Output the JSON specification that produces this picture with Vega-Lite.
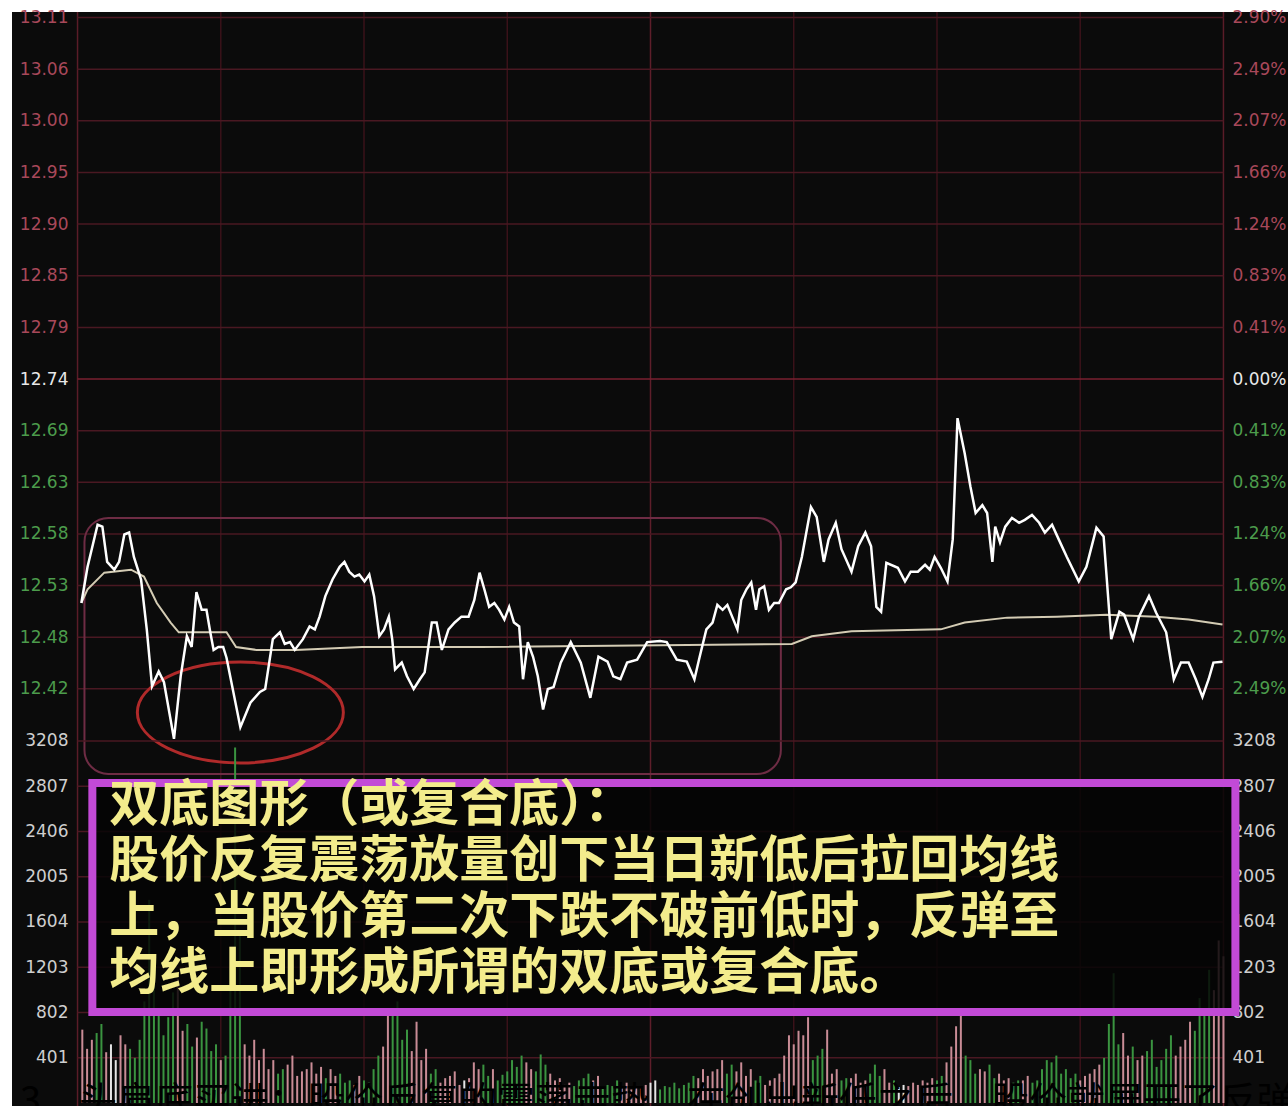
{
  "$schema": "https://vega.github.io/schema/vega-lite/v6.json",
  "width": 1276,
  "height": 1094,
  "autosize": {"type": "none"},
  "padding": {"left": 12, "top": 12, "right": 0, "bottom": 0},
  "background": "#ffffff",
  "config": {
    "view": {"fill": "#0b0b0b", "stroke": null},
    "axis": {"domain": false, "ticks": false, "grid": false, "title": null, "labelOverlap": false, "labelBound": false, "labelFlush": false, "labelFont": "DejaVu Sans", "labelFontSize": 17}
  },
  "datasets": {
    "sessions": [{"t": 0}, {"t": 30}, {"t": 60}, {"t": 90}, {"t": 120}, {"t": 150}, {"t": 180}, {"t": 210}, {"t": 240}],
    "priceLevels": [{"level": 12.4232}, {"level": 12.476}, {"level": 12.5288}, {"level": 12.5816}, {"level": 12.6344}, {"level": 12.6872}, {"level": 12.74}, {"level": 12.7928}, {"level": 12.8456}, {"level": 12.8984}, {"level": 12.9512}, {"level": 13.004}, {"level": 13.0568}, {"level": 13.1096}],
    "volLevels": [{"level": 401}, {"level": 802}, {"level": 1203}, {"level": 1604}, {"level": 2005}, {"level": 2406}, {"level": 2807}, {"level": 3208}],
    "region": [{"t1": 1.45, "t2": 147.3, "hi": 12.598, "lo": 12.336}],
    "lows": [{"t": 34.1, "p": 12.399}],
    "price": [
      {"t": 0.8, "p": 12.511}, {"t": 2.1, "p": 12.548}, {"t": 4.2, "p": 12.591}, {"t": 5.2, "p": 12.589}, {"t": 6.2, "p": 12.553},
      {"t": 7.7, "p": 12.545}, {"t": 8.7, "p": 12.553}, {"t": 9.8, "p": 12.581}, {"t": 10.8, "p": 12.583}, {"t": 11.8, "p": 12.558},
      {"t": 13.3, "p": 12.535}, {"t": 14.5, "p": 12.484}, {"t": 15.6, "p": 12.426}, {"t": 17.0, "p": 12.441}, {"t": 18.1, "p": 12.43},
      {"t": 20.2, "p": 12.372}, {"t": 21.6, "p": 12.436}, {"t": 22.9, "p": 12.477}, {"t": 23.9, "p": 12.466}, {"t": 24.9, "p": 12.522},
      {"t": 26.0, "p": 12.504}, {"t": 27.0, "p": 12.504}, {"t": 27.8, "p": 12.481}, {"t": 28.5, "p": 12.463}, {"t": 29.5, "p": 12.466},
      {"t": 30.5, "p": 12.466}, {"t": 31.2, "p": 12.455}, {"t": 34.1, "p": 12.384}, {"t": 36.2, "p": 12.409}, {"t": 38.2, "p": 12.42},
      {"t": 39.3, "p": 12.423}, {"t": 40.9, "p": 12.474}, {"t": 42.4, "p": 12.481}, {"t": 43.4, "p": 12.469}, {"t": 44.5, "p": 12.471},
      {"t": 45.5, "p": 12.463}, {"t": 47.2, "p": 12.474}, {"t": 48.6, "p": 12.487}, {"t": 49.7, "p": 12.484}, {"t": 50.7, "p": 12.497},
      {"t": 51.9, "p": 12.518}, {"t": 53.4, "p": 12.535}, {"t": 54.9, "p": 12.548}, {"t": 55.9, "p": 12.553}, {"t": 56.9, "p": 12.543},
      {"t": 58.0, "p": 12.538}, {"t": 59.0, "p": 12.54}, {"t": 60.1, "p": 12.533}, {"t": 61.1, "p": 12.54}, {"t": 62.1, "p": 12.518},
      {"t": 63.2, "p": 12.477}, {"t": 64.2, "p": 12.484}, {"t": 65.2, "p": 12.497}, {"t": 65.9, "p": 12.474}, {"t": 66.5, "p": 12.443},
      {"t": 67.9, "p": 12.45}, {"t": 69.0, "p": 12.436}, {"t": 70.4, "p": 12.423}, {"t": 71.7, "p": 12.433}, {"t": 72.7, "p": 12.44},
      {"t": 74.2, "p": 12.491}, {"t": 75.2, "p": 12.491}, {"t": 76.3, "p": 12.463}, {"t": 77.7, "p": 12.484}, {"t": 79.0, "p": 12.491},
      {"t": 80.4, "p": 12.497}, {"t": 81.9, "p": 12.497}, {"t": 83.1, "p": 12.514}, {"t": 84.2, "p": 12.542}, {"t": 85.2, "p": 12.525},
      {"t": 86.2, "p": 12.507}, {"t": 87.3, "p": 12.511}, {"t": 88.3, "p": 12.504}, {"t": 89.4, "p": 12.494}, {"t": 90.4, "p": 12.507},
      {"t": 91.4, "p": 12.491}, {"t": 92.5, "p": 12.487}, {"t": 93.3, "p": 12.433}, {"t": 94.3, "p": 12.471}, {"t": 95.4, "p": 12.456},
      {"t": 96.4, "p": 12.436}, {"t": 97.5, "p": 12.402}, {"t": 98.5, "p": 12.423}, {"t": 99.7, "p": 12.425}, {"t": 101.2, "p": 12.45},
      {"t": 103.3, "p": 12.471}, {"t": 105.4, "p": 12.45}, {"t": 107.4, "p": 12.414}, {"t": 109.1, "p": 12.456}, {"t": 111.0, "p": 12.451},
      {"t": 112.2, "p": 12.436}, {"t": 113.7, "p": 12.433}, {"t": 115.1, "p": 12.45}, {"t": 117.2, "p": 12.453}, {"t": 119.3, "p": 12.471},
      {"t": 122.0, "p": 12.472}, {"t": 123.4, "p": 12.471}, {"t": 125.5, "p": 12.453}, {"t": 127.6, "p": 12.451}, {"t": 129.2, "p": 12.433},
      {"t": 130.3, "p": 12.456}, {"t": 131.7, "p": 12.484}, {"t": 133.0, "p": 12.491}, {"t": 134.0, "p": 12.509}, {"t": 135.1, "p": 12.504},
      {"t": 136.1, "p": 12.509}, {"t": 137.1, "p": 12.497}, {"t": 138.2, "p": 12.484}, {"t": 139.0, "p": 12.514}, {"t": 140.1, "p": 12.525},
      {"t": 141.1, "p": 12.532}, {"t": 142.1, "p": 12.504}, {"t": 142.8, "p": 12.525}, {"t": 143.8, "p": 12.528}, {"t": 144.8, "p": 12.504},
      {"t": 145.9, "p": 12.511}, {"t": 146.9, "p": 12.511}, {"t": 148.4, "p": 12.525}, {"t": 149.4, "p": 12.527}, {"t": 150.4, "p": 12.532},
      {"t": 151.7, "p": 12.558}, {"t": 153.6, "p": 12.609}, {"t": 154.8, "p": 12.599}, {"t": 156.3, "p": 12.553}, {"t": 157.3, "p": 12.576},
      {"t": 158.8, "p": 12.593}, {"t": 160.0, "p": 12.566}, {"t": 162.1, "p": 12.543}, {"t": 163.5, "p": 12.569}, {"t": 165.0, "p": 12.583},
      {"t": 166.2, "p": 12.569}, {"t": 167.3, "p": 12.507}, {"t": 168.3, "p": 12.502}, {"t": 169.4, "p": 12.552}, {"t": 171.8, "p": 12.547},
      {"t": 173.3, "p": 12.533}, {"t": 174.5, "p": 12.543}, {"t": 176.0, "p": 12.543}, {"t": 177.5, "p": 12.55}, {"t": 178.5, "p": 12.545},
      {"t": 179.5, "p": 12.558}, {"t": 180.8, "p": 12.547}, {"t": 182.2, "p": 12.533}, {"t": 183.3, "p": 12.576}, {"t": 184.3, "p": 12.7},
      {"t": 185.8, "p": 12.664}, {"t": 187.0, "p": 12.63}, {"t": 188.1, "p": 12.603}, {"t": 189.5, "p": 12.611}, {"t": 190.5, "p": 12.603},
      {"t": 191.6, "p": 12.553}, {"t": 192.2, "p": 12.589}, {"t": 193.2, "p": 12.573}, {"t": 194.3, "p": 12.589}, {"t": 195.7, "p": 12.598},
      {"t": 197.2, "p": 12.593}, {"t": 198.4, "p": 12.596}, {"t": 199.9, "p": 12.601}, {"t": 201.4, "p": 12.593}, {"t": 202.6, "p": 12.583},
      {"t": 204.1, "p": 12.591}, {"t": 205.5, "p": 12.576}, {"t": 207.2, "p": 12.558}, {"t": 209.7, "p": 12.533}, {"t": 211.3, "p": 12.548},
      {"t": 213.4, "p": 12.588}, {"t": 214.9, "p": 12.579}, {"t": 216.5, "p": 12.474}, {"t": 218.2, "p": 12.502}, {"t": 219.2, "p": 12.499},
      {"t": 221.1, "p": 12.474}, {"t": 222.3, "p": 12.497}, {"t": 224.4, "p": 12.518}, {"t": 225.9, "p": 12.501}, {"t": 228.0, "p": 12.481},
      {"t": 229.6, "p": 12.433}, {"t": 231.1, "p": 12.45}, {"t": 232.7, "p": 12.45}, {"t": 234.2, "p": 12.433}, {"t": 235.6, "p": 12.415},
      {"t": 236.9, "p": 12.433}, {"t": 237.9, "p": 12.45}, {"t": 239.8, "p": 12.451}
    ],
    "avg": [
      {"t": 0.8, "p": 12.511}, {"t": 2.1, "p": 12.525}, {"t": 5.6, "p": 12.542}, {"t": 11.2, "p": 12.545}, {"t": 13.9, "p": 12.538},
      {"t": 16.6, "p": 12.511}, {"t": 19.5, "p": 12.491}, {"t": 21.2, "p": 12.481}, {"t": 24.9, "p": 12.481}, {"t": 31.2, "p": 12.481},
      {"t": 33.2, "p": 12.466}, {"t": 37.4, "p": 12.463}, {"t": 45.7, "p": 12.463}, {"t": 59.6, "p": 12.466}, {"t": 84.6, "p": 12.466},
      {"t": 149.6, "p": 12.469}, {"t": 153.8, "p": 12.477}, {"t": 162.1, "p": 12.482}, {"t": 180.8, "p": 12.484}, {"t": 185.8, "p": 12.491},
      {"t": 194.7, "p": 12.496}, {"t": 205.1, "p": 12.497}, {"t": 215.5, "p": 12.499}, {"t": 225.9, "p": 12.497}, {"t": 232.7, "p": 12.494},
      {"t": 239.8, "p": 12.489}
    ],
    "volume": [
      {"t": 1, "v": 650, "dir": "up"}, {"t": 3, "v": 560, "dir": "up"}, {"t": 5, "v": 700, "dir": "down"}, {"t": 7, "v": 520, "dir": "flat"},
      {"t": 9, "v": 600, "dir": "up"}, {"t": 11, "v": 480, "dir": "down"}, {"t": 13, "v": 560, "dir": "down"}, {"t": 15, "v": 1800, "dir": "down"},
      {"t": 17, "v": 820, "dir": "down"}, {"t": 19, "v": 760, "dir": "down"}, {"t": 21, "v": 1100, "dir": "up"}, {"t": 23, "v": 700, "dir": "down"},
      {"t": 25, "v": 580, "dir": "up"}, {"t": 27, "v": 660, "dir": "down"}, {"t": 29, "v": 520, "dir": "down"}, {"t": 31, "v": 420, "dir": "down"},
      {"t": 33, "v": 3150, "dir": "down"}, {"t": 35, "v": 520, "dir": "up"}, {"t": 37, "v": 560, "dir": "up"}, {"t": 39, "v": 480, "dir": "up"},
      {"t": 41, "v": 380, "dir": "up"}, {"t": 43, "v": 300, "dir": "down"}, {"t": 45, "v": 420, "dir": "up"}, {"t": 47, "v": 280, "dir": "up"},
      {"t": 49, "v": 360, "dir": "up"}, {"t": 51, "v": 320, "dir": "up"}, {"t": 53, "v": 300, "dir": "up"}, {"t": 55, "v": 260, "dir": "down"},
      {"t": 57, "v": 200, "dir": "down"}, {"t": 59, "v": 240, "dir": "up"}, {"t": 61, "v": 180, "dir": "down"}, {"t": 63, "v": 420, "dir": "down"},
      {"t": 65, "v": 780, "dir": "up"}, {"t": 67, "v": 900, "dir": "down"}, {"t": 69, "v": 650, "dir": "down"}, {"t": 71, "v": 720, "dir": "up"},
      {"t": 73, "v": 480, "dir": "up"}, {"t": 75, "v": 300, "dir": "down"}, {"t": 77, "v": 220, "dir": "up"}, {"t": 79, "v": 280, "dir": "up"},
      {"t": 81, "v": 200, "dir": "flat"}, {"t": 83, "v": 360, "dir": "up"}, {"t": 85, "v": 340, "dir": "down"}, {"t": 87, "v": 300, "dir": "up"},
      {"t": 89, "v": 250, "dir": "down"}, {"t": 91, "v": 380, "dir": "down"}, {"t": 93, "v": 420, "dir": "down"}, {"t": 95, "v": 300, "dir": "up"},
      {"t": 97, "v": 430, "dir": "down"}, {"t": 99, "v": 260, "dir": "up"}, {"t": 101, "v": 220, "dir": "up"}, {"t": 103, "v": 180, "dir": "up"},
      {"t": 105, "v": 200, "dir": "down"}, {"t": 107, "v": 260, "dir": "down"}, {"t": 109, "v": 240, "dir": "up"}, {"t": 111, "v": 160, "dir": "down"},
      {"t": 113, "v": 200, "dir": "down"}, {"t": 115, "v": 180, "dir": "up"}, {"t": 117, "v": 140, "dir": "up"}, {"t": 119, "v": 160, "dir": "up"},
      {"t": 121, "v": 200, "dir": "flat"}, {"t": 123, "v": 150, "dir": "down"}, {"t": 125, "v": 180, "dir": "down"}, {"t": 127, "v": 160, "dir": "down"},
      {"t": 129, "v": 240, "dir": "down"}, {"t": 131, "v": 300, "dir": "up"}, {"t": 133, "v": 280, "dir": "up"}, {"t": 135, "v": 380, "dir": "up"},
      {"t": 137, "v": 340, "dir": "down"}, {"t": 139, "v": 360, "dir": "up"}, {"t": 141, "v": 300, "dir": "up"}, {"t": 143, "v": 240, "dir": "down"},
      {"t": 145, "v": 200, "dir": "up"}, {"t": 147, "v": 260, "dir": "up"}, {"t": 149, "v": 600, "dir": "up"}, {"t": 151, "v": 640, "dir": "up"},
      {"t": 153, "v": 760, "dir": "up"}, {"t": 155, "v": 420, "dir": "down"}, {"t": 157, "v": 650, "dir": "up"}, {"t": 159, "v": 300, "dir": "up"},
      {"t": 161, "v": 220, "dir": "down"}, {"t": 163, "v": 260, "dir": "up"}, {"t": 165, "v": 200, "dir": "up"}, {"t": 167, "v": 340, "dir": "down"},
      {"t": 169, "v": 300, "dir": "up"}, {"t": 171, "v": 200, "dir": "down"}, {"t": 173, "v": 160, "dir": "flat"}, {"t": 175, "v": 180, "dir": "up"},
      {"t": 177, "v": 200, "dir": "up"}, {"t": 179, "v": 220, "dir": "up"}, {"t": 181, "v": 240, "dir": "down"}, {"t": 183, "v": 500, "dir": "up"},
      {"t": 185, "v": 800, "dir": "up"}, {"t": 187, "v": 380, "dir": "down"}, {"t": 189, "v": 300, "dir": "up"}, {"t": 191, "v": 340, "dir": "down"},
      {"t": 193, "v": 260, "dir": "up"}, {"t": 195, "v": 220, "dir": "up"}, {"t": 197, "v": 200, "dir": "down"}, {"t": 199, "v": 240, "dir": "up"},
      {"t": 201, "v": 200, "dir": "down"}, {"t": 203, "v": 380, "dir": "down"}, {"t": 205, "v": 420, "dir": "down"}, {"t": 207, "v": 300, "dir": "down"},
      {"t": 209, "v": 260, "dir": "down"}, {"t": 211, "v": 240, "dir": "up"}, {"t": 213, "v": 300, "dir": "up"}, {"t": 215, "v": 400, "dir": "down"},
      {"t": 217, "v": 1150, "dir": "down"}, {"t": 219, "v": 620, "dir": "up"}, {"t": 221, "v": 500, "dir": "down"}, {"t": 223, "v": 420, "dir": "up"},
      {"t": 225, "v": 560, "dir": "down"}, {"t": 227, "v": 380, "dir": "down"}, {"t": 229, "v": 600, "dir": "down"}, {"t": 231, "v": 500, "dir": "up"},
      {"t": 233, "v": 720, "dir": "up"}, {"t": 235, "v": 930, "dir": "down"}, {"t": 237, "v": 1180, "dir": "down"}, {"t": 239, "v": 1440, "dir": "up"},
      {"t": 2, "v": 480, "dir": "up"}, {"t": 4, "v": 620, "dir": "down"}, {"t": 6, "v": 450, "dir": "up"}, {"t": 8, "v": 380, "dir": "flat"},
      {"t": 10, "v": 520, "dir": "up"}, {"t": 12, "v": 400, "dir": "down"}, {"t": 14, "v": 900, "dir": "down"}, {"t": 16, "v": 1100, "dir": "down"},
      {"t": 18, "v": 600, "dir": "down"}, {"t": 20, "v": 980, "dir": "down"}, {"t": 22, "v": 640, "dir": "up"}, {"t": 24, "v": 500, "dir": "down"},
      {"t": 26, "v": 720, "dir": "down"}, {"t": 28, "v": 460, "dir": "down"}, {"t": 30, "v": 380, "dir": "up"}, {"t": 32, "v": 1200, "dir": "down"},
      {"t": 34, "v": 1500, "dir": "down"}, {"t": 36, "v": 420, "dir": "up"}, {"t": 38, "v": 380, "dir": "up"}, {"t": 40, "v": 300, "dir": "up"},
      {"t": 42, "v": 260, "dir": "down"}, {"t": 44, "v": 340, "dir": "up"}, {"t": 46, "v": 240, "dir": "up"}, {"t": 48, "v": 300, "dir": "up"},
      {"t": 50, "v": 260, "dir": "up"}, {"t": 52, "v": 220, "dir": "down"}, {"t": 54, "v": 240, "dir": "up"}, {"t": 56, "v": 180, "dir": "down"},
      {"t": 58, "v": 160, "dir": "up"}, {"t": 60, "v": 200, "dir": "down"}, {"t": 62, "v": 300, "dir": "down"}, {"t": 64, "v": 500, "dir": "up"},
      {"t": 66, "v": 820, "dir": "down"}, {"t": 68, "v": 560, "dir": "down"}, {"t": 70, "v": 460, "dir": "up"}, {"t": 72, "v": 380, "dir": "up"},
      {"t": 74, "v": 260, "dir": "down"}, {"t": 76, "v": 180, "dir": "up"}, {"t": 78, "v": 240, "dir": "up"}, {"t": 80, "v": 160, "dir": "up"},
      {"t": 82, "v": 220, "dir": "up"}, {"t": 84, "v": 300, "dir": "up"}, {"t": 86, "v": 240, "dir": "down"}, {"t": 88, "v": 200, "dir": "down"},
      {"t": 90, "v": 280, "dir": "down"}, {"t": 92, "v": 320, "dir": "down"}, {"t": 94, "v": 360, "dir": "up"}, {"t": 96, "v": 280, "dir": "down"},
      {"t": 98, "v": 340, "dir": "down"}, {"t": 100, "v": 200, "dir": "up"}, {"t": 102, "v": 160, "dir": "up"}, {"t": 104, "v": 150, "dir": "down"},
      {"t": 106, "v": 220, "dir": "down"}, {"t": 108, "v": 200, "dir": "up"}, {"t": 110, "v": 140, "dir": "down"}, {"t": 112, "v": 150, "dir": "down"},
      {"t": 114, "v": 130, "dir": "up"}, {"t": 116, "v": 120, "dir": "up"}, {"t": 118, "v": 140, "dir": "up"}, {"t": 120, "v": 180, "dir": "flat"},
      {"t": 122, "v": 120, "dir": "down"}, {"t": 124, "v": 140, "dir": "down"}, {"t": 126, "v": 130, "dir": "down"}, {"t": 128, "v": 180, "dir": "down"},
      {"t": 130, "v": 220, "dir": "up"}, {"t": 132, "v": 240, "dir": "up"}, {"t": 134, "v": 300, "dir": "up"}, {"t": 136, "v": 260, "dir": "down"},
      {"t": 138, "v": 280, "dir": "up"}, {"t": 140, "v": 240, "dir": "up"}, {"t": 142, "v": 200, "dir": "down"}, {"t": 144, "v": 160, "dir": "up"},
      {"t": 146, "v": 220, "dir": "up"}, {"t": 148, "v": 420, "dir": "up"}, {"t": 150, "v": 520, "dir": "up"}, {"t": 152, "v": 600, "dir": "up"},
      {"t": 154, "v": 380, "dir": "down"}, {"t": 156, "v": 480, "dir": "down"}, {"t": 158, "v": 260, "dir": "up"}, {"t": 160, "v": 200, "dir": "down"},
      {"t": 162, "v": 220, "dir": "up"}, {"t": 164, "v": 180, "dir": "up"}, {"t": 166, "v": 260, "dir": "down"}, {"t": 168, "v": 240, "dir": "down"},
      {"t": 170, "v": 180, "dir": "up"}, {"t": 172, "v": 140, "dir": "flat"}, {"t": 174, "v": 150, "dir": "up"}, {"t": 176, "v": 160, "dir": "up"},
      {"t": 178, "v": 180, "dir": "up"}, {"t": 180, "v": 200, "dir": "down"}, {"t": 182, "v": 360, "dir": "up"}, {"t": 184, "v": 680, "dir": "up"},
      {"t": 186, "v": 420, "dir": "down"}, {"t": 188, "v": 260, "dir": "down"}, {"t": 190, "v": 280, "dir": "up"}, {"t": 192, "v": 220, "dir": "down"},
      {"t": 194, "v": 200, "dir": "up"}, {"t": 196, "v": 180, "dir": "down"}, {"t": 198, "v": 200, "dir": "up"}, {"t": 200, "v": 180, "dir": "down"},
      {"t": 202, "v": 300, "dir": "down"}, {"t": 204, "v": 360, "dir": "down"}, {"t": 206, "v": 260, "dir": "down"}, {"t": 208, "v": 220, "dir": "down"},
      {"t": 210, "v": 200, "dir": "up"}, {"t": 212, "v": 260, "dir": "up"}, {"t": 214, "v": 340, "dir": "up"}, {"t": 216, "v": 700, "dir": "down"},
      {"t": 218, "v": 520, "dir": "down"}, {"t": 220, "v": 420, "dir": "up"}, {"t": 222, "v": 380, "dir": "up"}, {"t": 224, "v": 460, "dir": "down"},
      {"t": 226, "v": 320, "dir": "down"}, {"t": 228, "v": 480, "dir": "down"}, {"t": 230, "v": 420, "dir": "up"}, {"t": 232, "v": 560, "dir": "up"},
      {"t": 234, "v": 640, "dir": "down"}, {"t": 236, "v": 800, "dir": "down"}, {"t": 238, "v": 1000, "dir": "up"}, {"t": 240, "v": 1300, "dir": "up"}
    ],
    "note": [{"t1": 3.1, "t2": 242.5, "hi": 2836, "lo": 806}],
    "noteLines": [
      {"t": 6.65, "v": 2632, "text": "双底图形（或复合底）："},
      {"t": 6.65, "v": 2136, "text": "股价反复震荡放量创下当日新低后拉回均线"},
      {"t": 6.65, "v": 1639, "text": "上，当股价第二次下跌不破前低时，反弹至"},
      {"t": 6.65, "v": 1143, "text": "均线上即形成所谓的双底或复合底。"}
    ],
    "caption": [{"t": -12.05, "v": -97.5, "text": "3、头肩底买进：股价反复的震荡走势，在创出新低之后，股价就展开了反弹"}]
  },
  "resolve": {"scale": {"y": "independent"}, "axis": {"y": "independent"}},
  "layer": [
    {
      "resolve": {"axis": {"y": "independent"}},
      "layer": [
        {
          "data": {"name": "sessions"},
          "mark": {"type": "rule", "strokeWidth": 1.5},
          "encoding": {
            "x": {"field": "t", "type": "quantitative", "axis": null, "scale": {"domain": [-12.68, 252.47], "nice": false, "zero": false}},
            "color": {"condition": [{"test": "datum.t == 120", "value": "#5e1e2a"}, {"test": "datum.t == 0 || datum.t == 240", "value": "#5a1c28"}], "value": "#3a1219"}
          }
        },
        {
          "data": {"name": "priceLevels"},
          "mark": {"type": "rule", "strokeWidth": 1.5},
          "encoding": {
            "x": {"datum": 0, "type": "quantitative", "axis": null, "scale": {"domain": [-12.68, 252.47], "nice": false, "zero": false}},
            "x2": {"datum": 240},
            "y": {
              "field": "level", "type": "quantitative",
              "scale": {"domain": [11.9966, 13.1153], "nice": false, "zero": false},
              "axis": {
                "orient": "left", "offset": -61, "labelPadding": 5,
                "values": [12.4232, 12.476, 12.5288, 12.5816, 12.6344, 12.6872, 12.74, 12.7928, 12.8456, 12.8984, 12.9512, 13.004, 13.0568, 13.1096],
                "format": ".2f",
                "labelColor": {"condition": [{"test": "datum.value > 12.745", "value": "#a8485a"}, {"test": "datum.value < 12.735", "value": "#4c9c4c"}], "value": "#e8e8e8"}
              }
            },
            "color": {"condition": {"test": "abs(datum.level - 12.74) < 0.001", "value": "#7a2030"}, "value": "#4a1822"}
          }
        },
        {
          "data": {"name": "region"},
          "mark": {"type": "rect", "filled": false, "stroke": "#6e2c44", "strokeWidth": 2, "cornerRadius": 24},
          "encoding": {
            "x": {"field": "t1", "type": "quantitative", "axis": null, "scale": {"domain": [-12.68, 252.47], "nice": false, "zero": false}},
            "x2": {"field": "t2"},
            "y": {"field": "hi", "type": "quantitative", "axis": null, "scale": {"domain": [11.9966, 13.1153], "nice": false, "zero": false}},
            "y2": {"field": "lo"}
          }
        },
        {
          "data": {"name": "lows"},
          "mark": {
            "type": "point", "filled": false, "stroke": "#b02a2a", "strokeWidth": 3, "opacity": 1, "size": 42436,
            "shape": "M -1 0 C -1 -0.2706 -0.5523 -0.49 0 -0.49 C 0.5523 -0.49 1 -0.2706 1 0 C 1 0.2706 0.5523 0.49 0 0.49 C -0.5523 0.49 -1 0.2706 -1 0 Z"
          },
          "encoding": {
            "x": {"field": "t", "type": "quantitative", "axis": null, "scale": {"domain": [-12.68, 252.47], "nice": false, "zero": false}},
            "y": {"field": "p", "type": "quantitative", "axis": null, "scale": {"domain": [11.9966, 13.1153], "nice": false, "zero": false}}
          }
        },
        {
          "data": {"name": "avg"},
          "mark": {"type": "line", "color": "#d4ccb4", "strokeWidth": 2},
          "encoding": {
            "x": {"field": "t", "type": "quantitative", "axis": null, "scale": {"domain": [-12.68, 252.47], "nice": false, "zero": false}},
            "y": {"field": "p", "type": "quantitative", "axis": null, "scale": {"domain": [11.9966, 13.1153], "nice": false, "zero": false}}
          }
        },
        {
          "data": {"name": "price"},
          "mark": {"type": "line", "color": "#ffffff", "strokeWidth": 2.5},
          "encoding": {
            "x": {"field": "t", "type": "quantitative", "axis": null, "scale": {"domain": [-12.68, 252.47], "nice": false, "zero": false}},
            "y": {
              "field": "p", "type": "quantitative",
              "scale": {"domain": [11.9966, 13.1153], "nice": false, "zero": false},
              "axis": {
                "orient": "right", "offset": -60, "labelPadding": 4,
                "values": [12.4232, 12.476, 12.5288, 12.5816, 12.6344, 12.6872, 12.74, 12.7928, 12.8456, 12.8984, 12.9512, 13.004, 13.0568, 13.1096],
                "labelExpr": "format(abs(datum.value - 12.74) / 12.74 * 100, '.2f') + '%'",
                "labelColor": {"condition": [{"test": "datum.value > 12.745", "value": "#a8485a"}, {"test": "datum.value < 12.735", "value": "#4c9c4c"}], "value": "#e8e8e8"}
              }
            }
          }
        }
      ]
    },
    {
      "resolve": {"axis": {"y": "independent"}},
      "layer": [
        {
          "data": {"name": "volLevels"},
          "mark": {"type": "rule", "strokeWidth": 1.5},
          "encoding": {
            "x": {"datum": 0, "type": "quantitative", "axis": null, "scale": {"domain": [-12.68, 252.47], "nice": false, "zero": false}},
            "x2": {"datum": 240},
            "y": {
              "field": "level", "type": "quantitative",
              "scale": {"domain": [-26.6, 9668], "nice": false, "zero": false},
              "axis": {"orient": "left", "offset": -61, "labelPadding": 5, "values": [401, 802, 1203, 1604, 2005, 2406, 2807, 3208], "format": "d", "labelColor": "#cfcfcf"}
            },
            "color": {"value": "#4a1822"}
          }
        },
        {
          "data": {"name": "volume"},
          "mark": {"type": "bar", "size": 2},
          "encoding": {
            "x": {"field": "t", "type": "quantitative", "axis": null, "scale": {"domain": [-12.68, 252.47], "nice": false, "zero": false}},
            "y": {
              "field": "v", "type": "quantitative",
              "scale": {"domain": [-26.6, 9668], "nice": false, "zero": false},
              "axis": {"orient": "right", "offset": -60, "labelPadding": 4, "values": [401, 802, 1203, 1604, 2005, 2406, 2807, 3208], "format": "d", "labelColor": "#cfcfcf"}
            },
            "color": {"condition": [{"test": "datum.dir == 'up'", "value": "#c98c96"}, {"test": "datum.dir == 'down'", "value": "#3a9440"}], "value": "#e6e6e6"}
          }
        },
        {
          "data": {"name": "note"},
          "mark": {"type": "rect", "fill": "#050505", "fillOpacity": 0.84, "stroke": "#c24ad6", "strokeWidth": 8},
          "encoding": {
            "x": {"field": "t1", "type": "quantitative", "axis": null, "scale": {"domain": [-12.68, 252.47], "nice": false, "zero": false}},
            "x2": {"field": "t2"},
            "y": {"field": "hi", "type": "quantitative", "axis": null, "scale": {"domain": [-26.6, 9668], "nice": false, "zero": false}},
            "y2": {"field": "lo"}
          }
        },
        {
          "data": {"name": "noteLines"},
          "mark": {"type": "text", "align": "left", "baseline": "middle", "font": "Noto Sans CJK SC", "fontWeight": "bold", "fontSize": 50, "color": "#f3ec8c"},
          "encoding": {
            "x": {"field": "t", "type": "quantitative", "axis": null, "scale": {"domain": [-12.68, 252.47], "nice": false, "zero": false}},
            "y": {"field": "v", "type": "quantitative", "axis": null, "scale": {"domain": [-26.6, 9668], "nice": false, "zero": false}},
            "text": {"field": "text"}
          }
        },
        {
          "data": {"name": "caption"},
          "mark": {"type": "text", "align": "left", "baseline": "alphabetic", "font": "Noto Sans CJK SC", "fontSize": 38, "color": "#000000"},
          "encoding": {
            "x": {"field": "t", "type": "quantitative", "axis": null, "scale": {"domain": [-12.68, 252.47], "nice": false, "zero": false}},
            "y": {"field": "v", "type": "quantitative", "axis": null, "scale": {"domain": [-26.6, 9668], "nice": false, "zero": false}},
            "text": {"field": "text"}
          }
        }
      ]
    }
  ]
}
